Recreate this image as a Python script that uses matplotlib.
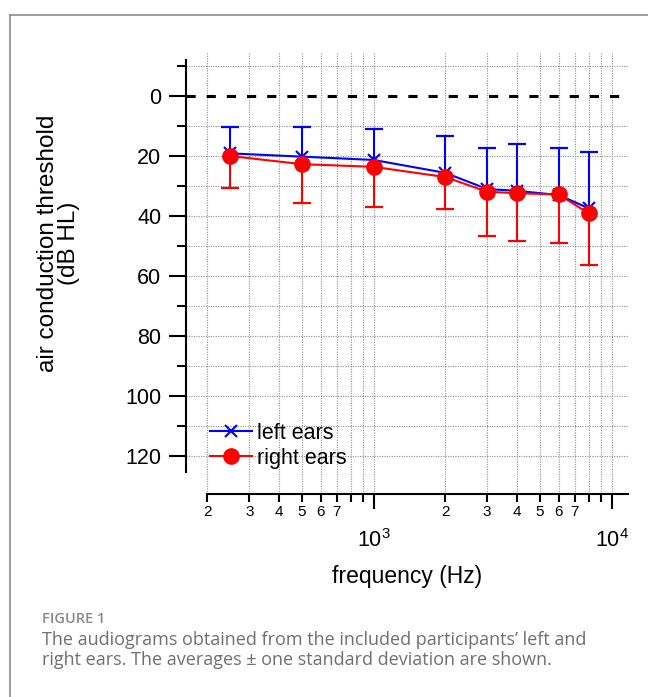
import numpy as np
import matplotlib
matplotlib.use("Agg")
from matplotlib import pyplot as plt
from matplotlib.ticker import FixedLocator, FuncFormatter
from matplotlib.lines import Line2D

# audiogram: mean thresholds (dB HL) and standard deviations per test frequency
freqs = [250, 500, 1000, 2000, 3000, 4000, 6000, 8000]
left_mean = [19.1, 20.2, 21.3, 25.6, 31.0, 31.6, 33.0, 37.4]
left_sd = [8.9, 10.0, 10.4, 12.3, 13.8, 15.7, 15.8, 18.7]
right_mean = [20.0, 22.7, 23.6, 27.0, 31.9, 32.4, 32.8, 39.1]
right_sd = [10.8, 13.1, 13.3, 10.8, 14.8, 15.9, 16.3, 17.3]

y_major = [0, 20, 40, 60, 80, 100, 120]
y_minor = [-10, 10, 30, 50, 70, 90, 110]
x_major = [1000, 10000]
x_minor = [200, 300, 400, 500, 600, 700, 800, 900,
           2000, 3000, 4000, 5000, 6000, 7000, 8000, 9000]

caption_title = "FIGURE 1"
caption_lines = [
    "The audiograms obtained from the included participants\u2019 left and",
    "right ears. The averages \u00b1 one standard deviation are shown.",
]

plt.rcParams['font.family'] = ['Liberation Sans', 'DejaVu Sans']
plt.rcParams['mathtext.default'] = 'regular'

BLUE = '#0000ff'
RED = '#ff0000'

fig = plt.figure(figsize=(6.48, 6.97), dpi=100)
ax = fig.add_axes([0.287, 0.2912, 0.682, 0.6342])

ax.set_xscale('log')
ax.set_xlim(162.7, 11710)
ax.set_ylim(132.7, -14.7)

# grid first so everything sits on top
for f in x_major + x_minor:
    ax.axvline(f, color='#8f8f8f', lw=0.8, ls=(0, (1, 1.2)), zorder=0)
for v in y_major + y_minor:
    if v != 0:
        ax.axhline(v, color='#8f8f8f', lw=0.8, ls=(0, (1, 1.2)), zorder=0)
ax.axhline(0, color='black', lw=2.2, ls=(0, (3, 3.6)), zorder=1)

fl = np.array(freqs)
lm, lsd = np.array(left_mean), np.array(left_sd)
rm, rsd = np.array(right_mean), np.array(right_sd)

# left ears: only the upper half of the error bar
ax.vlines(fl, lm - lsd, lm, color=BLUE, lw=1.5, zorder=3)
ax.plot(fl, lm - lsd, ls='none', marker='_', ms=12.5, mew=1.6, color=BLUE, zorder=3)
ax.plot(fl, lm, color=BLUE, lw=1.5, marker='x', ms=9, mew=1.5, zorder=3,
        label='left ears')

# right ears: only the lower half
ax.vlines(fl, rm, rm + rsd, color=RED, lw=1.5, zorder=4)
ax.plot(fl, rm + rsd, ls='none', marker='_', ms=12.5, mew=1.6, color=RED, zorder=4)
ax.plot(fl, rm, color=RED, lw=1.5, marker='o', ms=11, zorder=4,
        label='right ears')

for side in ['top', 'right']:
    ax.spines[side].set_visible(False)
ax.spines['left'].set_bounds(-12, 125.3)
ax.spines['bottom'].set_bounds(200, 11710)
ax.spines['left'].set_linewidth(1.5)
ax.spines['bottom'].set_linewidth(1.5)

ax.yaxis.set_major_locator(FixedLocator(y_major))
ax.yaxis.set_minor_locator(FixedLocator(y_minor))
ax.tick_params(axis='y', which='major', length=12, width=1.5, pad=5.8,
               labelsize=15.5)
ax.tick_params(axis='y', which='minor', length=6.5, width=1.5)

ax.xaxis.set_major_locator(FixedLocator(x_major))
ax.xaxis.set_minor_locator(FixedLocator(x_minor))
ax.xaxis.set_major_formatter(
    FuncFormatter(lambda v, p: r'$10^{%d}$' % round(np.log10(v))))


def minor_label(v, p):
    lead = int(round(v / 10 ** np.floor(np.log10(v))))
    return str(lead) if lead <= 7 else ''


ax.xaxis.set_minor_formatter(FuncFormatter(minor_label))
ax.tick_params(axis='x', which='major', length=10.8, width=1.5, pad=14.5,
               labelsize=15.5)
ax.tick_params(axis='x', which='minor', length=5.8, width=1.5, pad=2,
               labelsize=11)

ax.set_xlabel('frequency (Hz)', fontsize=16.5, labelpad=9)
ax.set_ylabel('air conduction threshold\n(dB HL)', fontsize=17.5,
              linespacing=0.95)
ax.yaxis.set_label_coords(-0.24, 0.568)

ax.legend(loc='lower left', bbox_to_anchor=(0.054, 0.057), frameon=False,
          fontsize=15.5, handlelength=1.95, handletextpad=0.25,
          labelspacing=0.2, borderpad=0, borderaxespad=0)

# page frame: top and left edges
fig.add_artist(Line2D([10 / 648, 1], [1 - 15 / 697, 1 - 15 / 697],
                      transform=fig.transFigure, color='#8c8c8c', lw=1.2))
fig.add_artist(Line2D([10 / 648, 10 / 648], [0, 1 - 15 / 697],
                      transform=fig.transFigure, color='#8c8c8c', lw=1.2))

fig.text(42 / 648, 1 - 619 / 697, caption_title, fontsize=10.5,
         family=['Open Sans', 'DejaVu Sans'], weight='semibold',
         color='#8a8a8a', va='center')
for i, line in enumerate(caption_lines):
    fig.text(42 / 648, 1 - (640 + 20 * i) / 697, line, fontsize=13,
             family=['Open Sans', 'DejaVu Sans'], color='#707070',
             va='center')

fig.savefig('out.png', dpi=100)
